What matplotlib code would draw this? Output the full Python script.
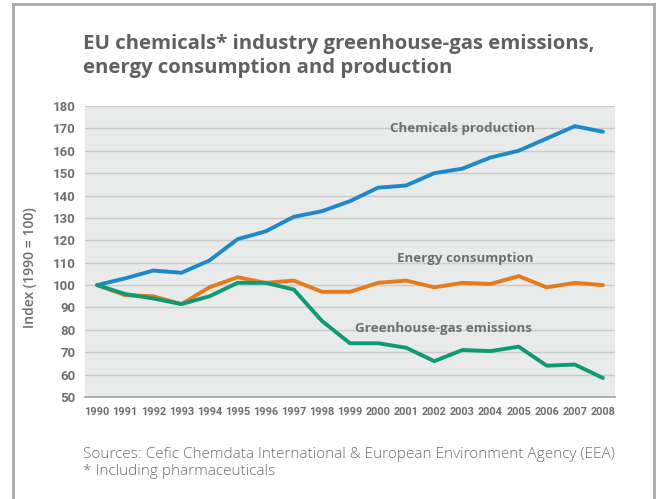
import matplotlib.pyplot as plt
from matplotlib.lines import Line2D

years = list(range(1990, 2009))
production = [100, 103, 106.5, 105.5, 111, 120.5, 124, 130.5, 133, 137.5,
              143.5, 144.5, 150, 152, 157, 160, 165.5, 171, 168.5]
energy = [100, 95.5, 95, 91.5, 99, 103.5, 101, 102, 97, 97,
          101, 102, 99, 101, 100.5, 104, 99, 101, 100]
ghg = [100, 96, 94, 91.5, 95, 101, 101, 98, 84, 74,
       74, 72, 66, 71, 70.5, 72.5, 64, 64.5, 58.5]
yticks = list(range(50, 181, 10))

GREY = "#6d6e71"
narrow = ["Roboto", "DejaVu Sans"]

fig = plt.figure(figsize=(6.61, 4.99), dpi=100)
ax = fig.add_axes([85 / 661, 102 / 499, 530 / 661, 291 / 499])
ax.set_facecolor("#e9eaea")

ax.plot(years, production, color="#1e88c8", lw=2.8, solid_joinstyle="round",
        solid_capstyle="round", zorder=3)
ax.plot(years, energy, color="#e67a1f", lw=2.8, solid_joinstyle="round",
        solid_capstyle="round", zorder=3)
ax.plot(years, ghg, color="#0f9a74", lw=2.8, solid_joinstyle="round",
        solid_capstyle="round", zorder=4)

ax.set_xlim(1989.57, 2008.43)
ax.set_ylim(50, 180)
ax.set_xticks(years)
ax.set_yticks(yticks)
ax.grid(axis="y", color="#c9caca", lw=1.0, zorder=1)
ax.set_axisbelow(True)
for s in ["top", "right", "left"]:
    ax.spines[s].set_visible(False)
ax.spines["bottom"].set_color("#a0a2a4")
ax.spines["bottom"].set_linewidth(1.2)
ax.tick_params(length=0, pad=7)
for lab in ax.get_xticklabels():
    lab.set_fontfamily(narrow)
    lab.set_fontweight("bold")
    lab.set_fontsize(7.8)
    lab.set_color(GREY)
for lab in ax.get_yticklabels():
    lab.set_fontfamily(narrow)
    lab.set_fontweight("bold")
    lab.set_fontsize(9.5)
    lab.set_color(GREY)

lbl = dict(ha="center", va="center", fontsize=9.6, fontweight="bold",
           color=GREY, family=["Open Sans", "DejaVu Sans"], zorder=5)
ax.text(2002.99, 170.1, "Chemicals production", **lbl)
ax.text(2003.1, 112.0, "Energy consumption", **lbl)
ax.text(2002.31, 80.8, "Greenhouse-gas emissions", **lbl)

fig.text(30 / 661, 1 - 268 / 499, "Index (1990 = 100)", rotation=90,
         ha="center", va="center", fontsize=10, color=GREY,
         family=["Open Sans", "DejaVu Sans"], fontweight="semibold")

fig.text(83 / 661, 1 - 34 / 499,
         "EU chemicals* industry greenhouse-gas emissions,\nenergy consumption and production",
         ha="left", va="top", fontsize=14.7, fontweight="bold", color="#5f6062",
         family=["Open Sans", "DejaVu Sans"], linespacing=1.3)

fig.text(83 / 661, 1 - 447 / 499,
         "Sources: Cefic Chemdata International & European Environment Agency (EEA)\n* Including pharmaceuticals",
         ha="left", va="top", fontsize=11.1, color=GREY,
         family=["Open Sans", "DejaVu Sans"], fontweight="light", linespacing=1.2)

# outer frame, open at the bottom
frame_kw = dict(color="#a7a9ac", lw=2, transform=fig.transFigure)
fig.add_artist(Line2D([13 / 661, 13 / 661], [0, 1 - 4 / 499], **frame_kw))
fig.add_artist(Line2D([654 / 661, 654 / 661], [0, 1 - 4 / 499], **frame_kw))
fig.add_artist(Line2D([13 / 661, 654 / 661], [1 - 4 / 499, 1 - 4 / 499], **frame_kw))

fig.savefig("out.png", dpi=100)
